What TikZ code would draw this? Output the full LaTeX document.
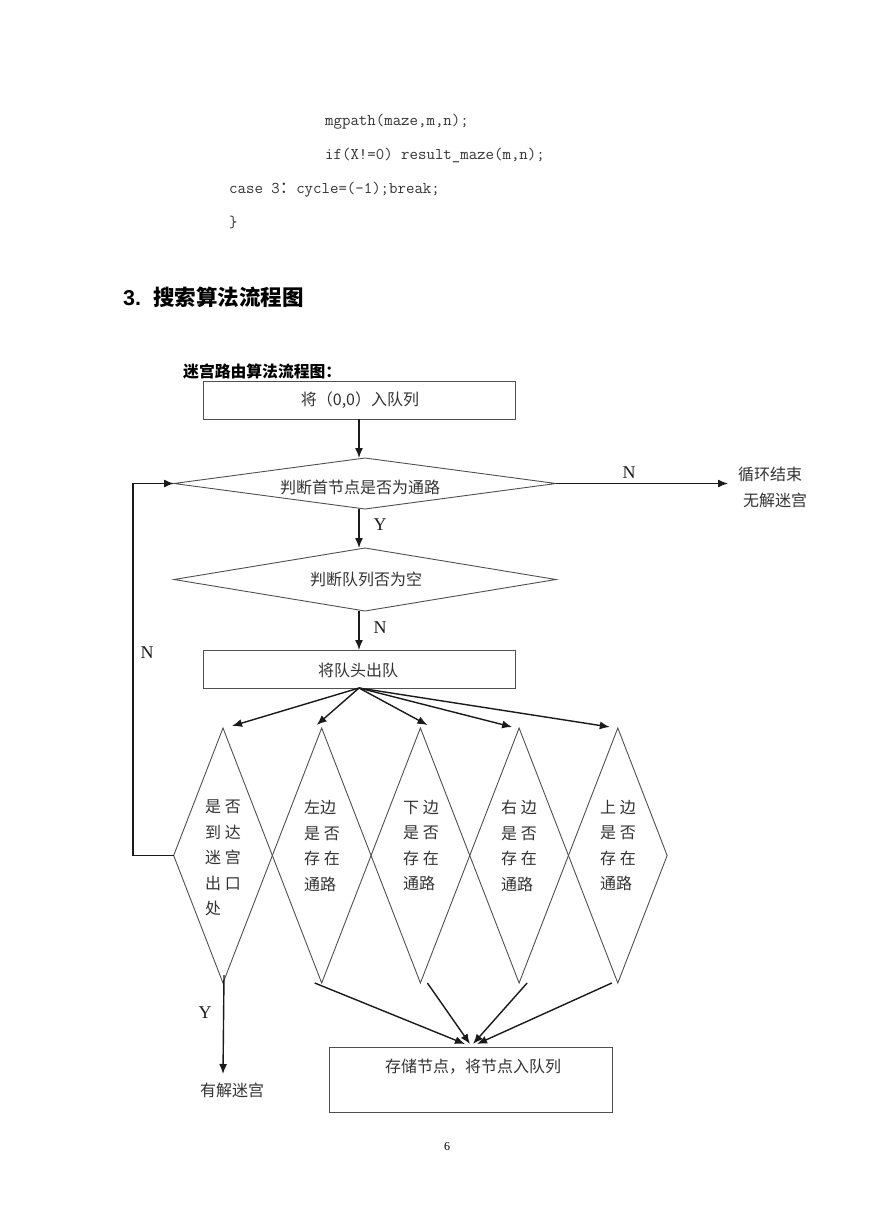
\documentclass[tikz,border=0pt]{standalone}
\usepackage{fontspec}
\setmainfont{Liberation Serif}
\newfontfamily\cjk{Noto Sans CJK SC}
\newfontfamily\hsans{Liberation Sans}
\usetikzlibrary{shapes.geometric,arrows.meta}
\definecolor{shapegray}{HTML}{505050}
\definecolor{arrdark}{HTML}{1A1A1A}
\definecolor{txtgray}{HTML}{333333}
\tikzset{
  boxnode/.style={draw=shapegray, line width=0.9pt, rectangle, inner sep=0pt, outer sep=0pt},
  dianode/.style={draw=shapegray, line width=0.9pt, diamond, inner sep=0pt, outer sep=0pt},
  arr/.style={draw=arrdark, line width=1.4pt, -{Latex[length=10pt,width=8pt]}},
  ctext/.style={font=\cjk\fontsize{16}{16}\selectfont, text=txtgray, inner sep=0pt},
  dtext/.style={font=\cjk\fontsize{16}{25.5}\selectfont, text=txtgray, inner sep=0pt, align=left, anchor=north west},
  yn/.style={font=\fontsize{18}{18}\selectfont, text=arrdark, inner sep=0pt},
  codetext/.style={font=\ttfamily\fontsize{16.4}{16.4}\selectfont, text=txtgray, inner sep=0pt, anchor=west}
}
\begin{document}
\begin{tikzpicture}[x=1pt,y=-1pt]
\useasboundingbox (0,0) rectangle (869,1228);
\fill[white] (0,0) rectangle (869,1228);

% code lines
\node[codetext] (c1) at (325,122) {mgpath(maze,m,n);};
\node[codetext] (c2) at (325,155) {if(X!=0) result\_maze(m,n);};
\node[codetext] (c3) at (229,190) {case 3{\cjk ：}cycle=(-1);break;};
\node[codetext] (c4) at (229,222) {\}};

% headings
\node[anchor=west, inner sep=0pt, font=\fontsize{21.5}{21.5}\selectfont] (h1) at (123,297) {\hsans\bfseries 3.\hspace{12pt}\cjk\bfseries 搜索算法流程图};
\node[anchor=west, inner sep=0pt, font=\cjk\bfseries\fontsize{15.8}{15.8}\selectfont] (h2) at (183,372) {迷宫路由算法流程图：};

% main column
\node[boxnode, minimum width=312pt, minimum height=38pt] (b1) at (359,400) {};
\node[ctext] (b1t) at (360,400) {将（0,0）入队列};

\node[dianode, minimum width=382pt, minimum height=51pt] (d1) at (365,483.5) {};
\node[ctext] (d1t) at (360,487) {判断首节点是否为通路};

\node[dianode, minimum width=382pt, minimum height=63pt] (d2) at (365,579.5) {};
\node[ctext] (d2t) at (366,579) {判断队列否为空};

\node[boxnode, minimum width=312pt, minimum height=38pt] (b2) at (359,669) {};
\node[ctext] (b2t) at (358,670) {将队头出队};

% small diamonds
\node[dianode, minimum width=98.7pt, minimum height=255pt] (s1) at (223,855.5) {};
\node[dianode, minimum width=98.7pt, minimum height=255pt] (s2) at (321.7,855.5) {};
\node[dianode, minimum width=98.7pt, minimum height=255pt] (s3) at (420.4,855.5) {};
\node[dianode, minimum width=98.7pt, minimum height=255pt] (s4) at (519.1,855.5) {};
\node[dianode, minimum width=98.7pt, minimum height=255pt] (s5) at (617.8,855.5) {};

\node[dtext] (s1t) at (205,800) {是 否\\到 达\\迷 宫\\出 口\\处};
\node[dtext] (s2t) at (304,800) {左边\\是 否\\存 在\\通路};
\node[dtext] (s3t) at (403,800) {下 边\\是 否\\存 在\\通路};
\node[dtext] (s4t) at (501,800) {右 边\\是 否\\存 在\\通路};
\node[dtext] (s5t) at (600,800) {上 边\\是 否\\存 在\\通路};

% bottom box
\node[boxnode, minimum width=283pt, minimum height=65pt] (b3) at (470.5,1079.5) {};
\node[ctext] (b3t) at (473,1067) {存储节点，将节点入队列};

% end texts
\node[ctext, align=center, font=\cjk\fontsize{16}{26}\selectfont] (endno) at (770,487) {循环结束\\\hspace*{10pt}无解迷宫};
\node[ctext] (endyes) at (232,1090) {有解迷宫};
\coordinate (rightend) at (728,483.5);
\coordinate (yesend) at (223,1074);
\coordinate (loopa) at (133,855.5);
\coordinate (loopb) at (133,483.5);

% connectors
\draw[arr] (b1.south) -- (b1.south |- d1.north);
\draw[arr] (b1.south |- d1.south) -- (b1.south |- d2.north);
\draw[arr] (b1.south |- d2.south) -- (b2.north);
\draw[arr] (d1.east) -- (rightend);
\draw[arr] (s1.west) -- (loopa) -- (loopb) -- (d1.west);

\draw[arr] (b2.south) -- ([xshift=9pt,yshift=2pt]s1.north);
\draw[arr] (b2.south) -- ([xshift=-5pt,yshift=3pt]s2.north);
\draw[arr] (b2.south) -- ([xshift=7pt,yshift=3pt]s3.north);
\draw[arr] (b2.south) -- ([xshift=-7pt,yshift=1pt]s4.north);
\draw[arr] (b2.south) -- ([xshift=-8pt,yshift=1pt]s5.north);

\draw[arr] ([xshift=1pt,yshift=8pt]s1.south) -- (yesend);

\draw[arr] ([xshift=-7pt]s2.south) -- ([xshift=-5.5pt,yshift=3pt]b3.north);
\draw[arr] ([xshift=7pt]s3.south) -- ([xshift=-0.5pt,yshift=3pt]b3.north);
\draw[arr] ([xshift=8pt]s4.south) -- ([xshift=2.5pt,yshift=3pt]b3.north);
\draw[arr] ([xshift=-6pt]s5.south) -- ([xshift=6.5pt,yshift=3pt]b3.north);

% labels
\node[yn] (lN1) at (629,473) {N};
\node[yn] (lY1) at (380,525) {Y};
\node[yn] (lN2) at (380,628) {N};
\node[yn] (lN3) at (147,653) {N};
\node[yn] (lY2) at (205,1013) {Y};

\node[inner sep=0pt, font=\fontsize{12}{12}\selectfont] (pg) at (447,1147) {6};
\end{tikzpicture}
\end{document}
